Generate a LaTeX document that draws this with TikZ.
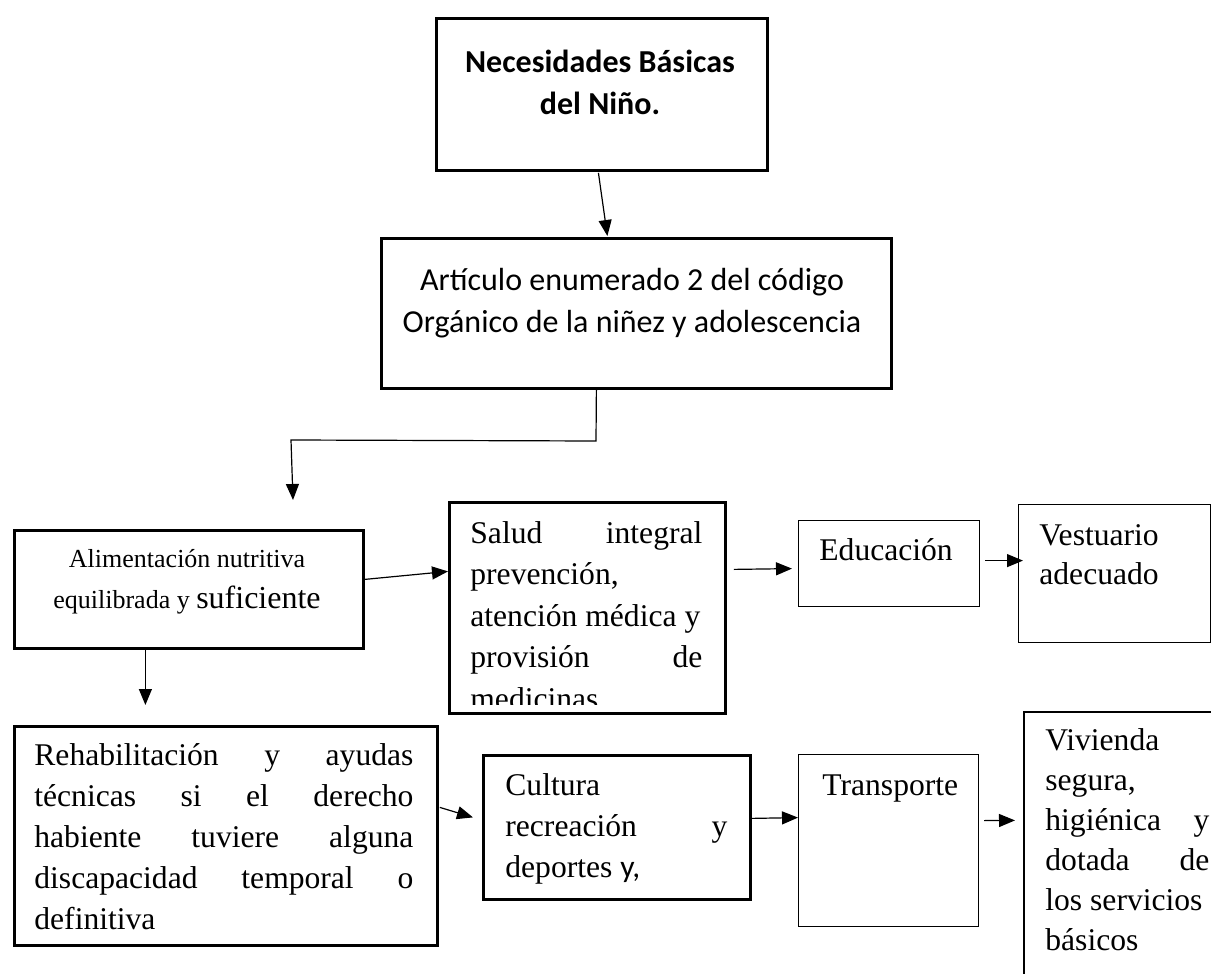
\documentclass[tikz,border=0pt]{standalone}
\usepackage{fontspec}
\setmainfont{Liberation Serif}
\newfontfamily\calibri{Carlito}
\usetikzlibrary{arrows.meta}

\begin{document}
\begin{tikzpicture}[x=0.5pt,y=-0.5pt,
  thickbox/.style={draw,line width=1.4pt,inner sep=0pt,anchor=north west},
  thinbox/.style={draw,line width=0.6pt,inner sep=0pt,anchor=north west},
  txt/.style={inner sep=0pt,font=\fontsize{15.8}{20.6}\selectfont},
  head/.style={inner sep=0pt,align=center,anchor=base,font=\calibri\fontsize{16}{21}\selectfont},
  link/.style={line width=0.6pt,-{Triangle[length=8pt,width=6.5pt]}}]
  \useasboundingbox (0,0) rectangle (1211,974);

  % frames
  \node[thickbox,minimum width=165.5pt,minimum height=76pt] (nec) at (435,17) {};
  \node[thickbox,minimum width=255pt,minimum height=75pt] (art) at (380,237) {};
  \node[thickbox,minimum width=174.5pt,minimum height=59pt] (alim) at (13,529) {};
  \node[thickbox,minimum width=138pt,minimum height=105.5pt] (salud) at (448,501) {};
  \node[thinbox,minimum width=90.5pt,minimum height=43pt] (edu) at (798,520) {};
  \node[thinbox,minimum width=96pt,minimum height=69pt] (vest) at (1018,504) {};
  \node[thickbox,minimum width=211.5pt,minimum height=109.5pt] (rehab) at (13,725) {};
  \node[thickbox,minimum width=133.5pt,minimum height=72pt] (cult) at (482,754) {};
  \node[thinbox,minimum width=90pt,minimum height=86pt] (trans) at (798,754) {};
  \node[inner sep=0pt,anchor=north west,minimum width=93.5pt,minimum height=131pt] (viv) at (1024,712) {};
  \draw[line width=0.6pt] (viv.south west) -- (viv.north west) -- (viv.north east);

  % texts
  \node[head,font=\calibri\bfseries\fontsize{16}{21}\selectfont] (necT) at (600,115) {Necesidades Básicas\\del Niño.};
  \node[head] (artT) at (632,332) {Artículo enumerado 2 del código\\Orgánico de la niñez y adolescencia};
  \node[txt,align=center,anchor=base,font=\fontsize{13}{20.5}\selectfont] (alimT) at (187,608)
    {Alimentación nutritiva\\equilibrada y {\fontsize{16}{20.5}\selectfont suficiente}};
  \begin{scope}
    \clip (salud.north west) rectangle ([shift={(0,-10)}]salud.south east);
    \node[txt,align=justify,text width=116pt,anchor=base west,font=\fontsize{15.8}{20.8}\selectfont] (saludT) at (470,543)
      {Salud\hfill integral\\prevención,\\atención médica y\\provisión\hfill de\\medicinas};
  \end{scope}
  \node[txt,anchor=base west] (eduT) at (819,560) {Educación};
  \node[txt,align=left,anchor=base west,font=\fontsize{15.8}{19.5}\selectfont] (vestT) at (1039,584) {Vestuario\\adecuado};
  \node[txt,align=justify,text width=189.5pt,anchor=base west] (rehabT) at (34,765)
    {Rehabilitación\hfill y\hfill ayudas\\técnicas\hfill si\hfill el\hfill derecho\\habiente\hfill tuviere\hfill alguna\\discapacidad\hfill temporal\hfill o\\definitiva};
  \node[txt,align=justify,text width=111pt,anchor=base west] (cultT) at (505,795)
    {Cultura\\recreación\hfill y\\deportes {\calibri y,}};
  \node[txt,anchor=base west] (transT) at (822,795) {Transporte};
  \node[txt,align=justify,text width=82pt,anchor=base west,font=\fontsize{15.8}{20}\selectfont] (vivT) at (1045,750)
    {Vivienda\\segura,\\higiénica\hfill y\\dotada\hfill de\\los servicios\\básicos};

  % connectors
  \coordinate (split) at (596,441);
  \coordinate (turn) at (291,440);
  \coordinate (drop) at (293,500);
  \draw[link] ([shift={(-3.5,1)}]nec.south) -- ([shift={(-29,-1)}]art.north);
  \draw[link] ([shift={(-40,0)}]art.south) -- (split) -- (turn) -- (drop);
  \draw[link] ([shift={(0,-10)}]alim.east) -- ([shift={(0,-36.5)}]salud.west);
  \draw[link] ([shift={(7,-38.5)}]salud.east) -- ([shift={(-6,5)}]edu.west);
  \draw[link] ([shift={(5,-3)}]edu.east) -- ([shift={(5,-13)}]vest.west);
  \draw[link] ([shift={(-43.5,-2)}]alim.south) -- ([shift={(-80.5,-20)}]rehab.north);
  \draw[link] ([shift={(1,-28.5)}]rehab.east) -- ([shift={(-9,-10)}]cult.west);
  \draw[link] ([shift={(0,-9)}]cult.east) -- ([shift={(0,-23)}]trans.west);
  \draw[link] ([shift={(5,-20)}]trans.east) -- ([shift={(-9,-23)}]viv.west);
\end{tikzpicture}
\end{document}
